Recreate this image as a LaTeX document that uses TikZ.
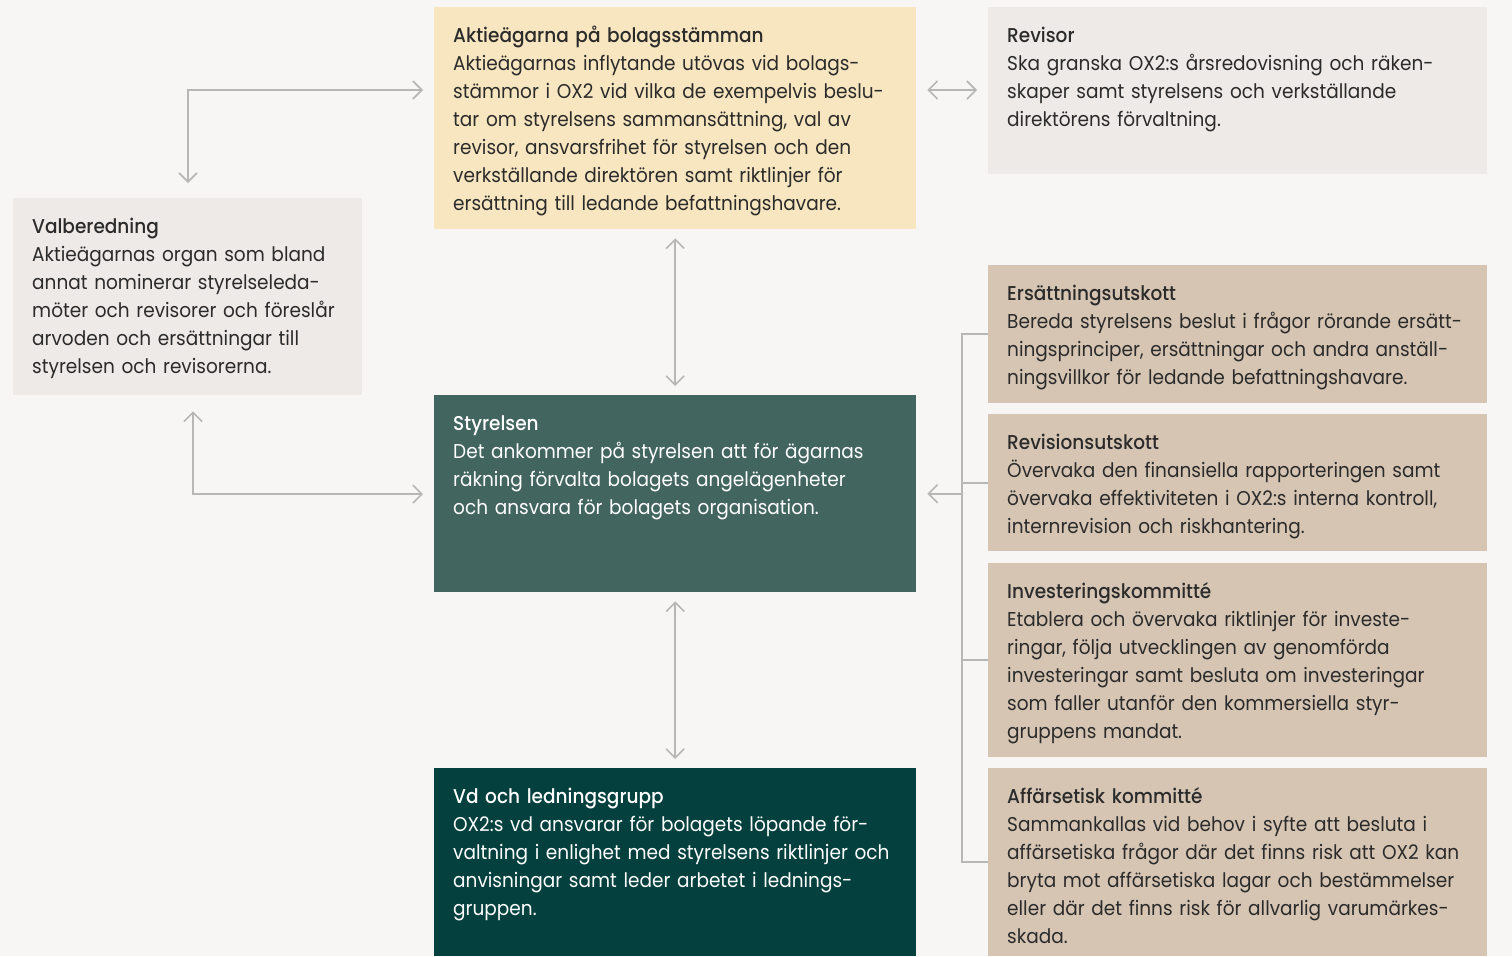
\documentclass[tikz,border=0pt]{standalone}
\usepackage{fontspec}
\setmainfont{Poppins}[FakeStretch=0.925, BoldFont={Poppins Medium}]
\usetikzlibrary{arrows.meta}
\definecolor{bg}{HTML}{F7F6F4}
\definecolor{yel}{HTML}{F8E6C0}
\definecolor{gry}{HTML}{EEEAE8}
\definecolor{tan}{HTML}{D6C5B3}
\definecolor{sty}{HTML}{42655F}
\definecolor{vdc}{HTML}{03403E}
\definecolor{txc}{HTML}{2B2B2B}
\definecolor{arc}{HTML}{B7B7B7}
\tikzset{
  box/.style={draw=none, anchor=north west, inner sep=0pt},
  txt/.style={anchor=base west, inner sep=0pt, text width=520pt, align=left,
    font=\fontsize{20}{28}\selectfont, text=txc},
  wtxt/.style={txt, text=white},
  conn/.style={draw=arc, line width=1.6pt, {Straight Barb[length=9pt,width=18pt]}-{Straight Barb[length=9pt,width=18pt]}},
  oneway/.style={draw=arc, line width=1.6pt, -{Straight Barb[length=9pt,width=18pt]}},
  brk/.style={draw=arc, line width=1.6pt},
}
\newcommand{\ttl}[1]{\textbf{#1}}
\begin{document}
\begin{tikzpicture}[x=1pt,y=-1pt]
\fill[bg] (0,0) rectangle (1512,956);
\useasboundingbox (0,0) rectangle (1512,956);
% boxes
\node[box, fill=yel, minimum width=482pt, minimum height=222pt] (akt) at (434,7) {};
\node[box, fill=gry, minimum width=499pt, minimum height=167pt] (rev) at (988,7) {};
\node[box, fill=gry, minimum width=349pt, minimum height=197pt] (val) at (13,198) {};
\node[box, fill=sty, minimum width=482pt, minimum height=197pt] (styr) at (434,395) {};
\node[box, fill=vdc, minimum width=482pt, minimum height=188pt] (vd) at (434,768) {};
\node[box, fill=tan, minimum width=499pt, minimum height=138pt] (ers) at (988,265) {};
\node[box, fill=tan, minimum width=499pt, minimum height=137pt] (rvs) at (988,414) {};
\node[box, fill=tan, minimum width=499pt, minimum height=194pt] (inv) at (988,563) {};
\node[box, fill=tan, minimum width=499pt, minimum height=188pt] (aff) at (988,768) {};
% texts
\node[txt] (aktT) at (453,42) {\ttl{Aktieägarna på bolagsstämman}\\
Aktieägarnas inflytande utövas vid bolags-\\
stämmor i OX2 vid vilka de exempelvis beslu-\\
tar om styrelsens sammansättning, val av\\
revisor, ansvarsfrihet för styrelsen och den\\
verkställande direktören samt riktlinjer för\\
ersättning till ledande befattningshavare.};
\node[txt] (revT) at (1007,42) {\ttl{Revisor}\\
Ska granska OX2:s årsredovisning och räken-\\
skaper samt styrelsens och verkställande\\
direktörens förvaltning.};
\node[txt] (valT) at (32,233) {\ttl{Valberedning}\\
Aktieägarnas organ som bland\\
annat nominerar styrelseleda-\\
möter och revisorer och föreslår\\
arvoden och ersättningar till\\
styrelsen och revisorerna.};
\node[wtxt] (styT) at (453,430) {\ttl{Styrelsen}\\
Det ankommer på styrelsen att för ägarnas\\
räkning förvalta bolagets angelägenheter\\
och ansvara för bolagets organisation.};
\node[wtxt] (vdT) at (453,803) {\ttl{Vd och ledningsgrupp}\\
OX2:s vd ansvarar för bolagets löpande för-\\
valtning i enlighet med styrelsens riktlinjer och\\
anvisningar samt leder arbetet i lednings-\\
gruppen.};
\node[txt] (ersT) at (1007,300) {\ttl{Ersättningsutskott}\\
Bereda styrelsens beslut i frågor rörande ersätt-\\
ningsprinciper, ersättningar och andra anställ-\\
ningsvillkor för ledande befattningshavare.};
\node[txt] (rvsT) at (1007,449) {\ttl{Revisionsutskott}\\
Övervaka den finansiella rapporteringen samt\\
övervaka effektiviteten i OX2:s interna kontroll,\\
internrevision och riskhantering.};
\node[txt] (invT) at (1007,598) {\ttl{Investeringskommitté}\\
Etablera och övervaka riktlinjer för investe-\\
ringar, följa utvecklingen av genomförda\\
investeringar samt besluta om investeringar\\
som faller utanför den kommersiella styr-\\
gruppens mandat.};
\node[txt] (affT) at (1007,803) {\ttl{Affärsetisk kommitté}\\
Sammankallas vid behov i syfte att besluta i\\
affärsetiska frågor där det finns risk att OX2 kan\\
bryta mot affärsetiska lagar och bestämmelser\\
eller där det finns risk för allvarlig varumärkes-\\
skada.};
% connectors
\draw[conn] ([shift={(175,-15)}]val.north west) |- ([shift={(-11,83)}]akt.north west);
\draw[conn] ([shift={(11,83)}]akt.north east) -- ([shift={(-11,83)}]rev.north west);
\draw[conn] ([shift={(0,9)}]akt.south) -- ([shift={(0,-9)}]styr.north);
\draw[conn] ([shift={(180,16)}]val.south west) |- ([shift={(-11,99)}]styr.north west);
\draw[conn] ([shift={(0,9)}]styr.south) -- ([shift={(0,-9)}]vd.north);
% committee bracket
\coordinate (bx) at ([xshift=-26]rvs.west);
\draw[brk] (ers.west) -- ++(-26,0) |- (aff.west);
\draw[brk] (rvs.west) -- (bx);
\draw[brk] (inv.west) -- ++(-26,0);
\draw[oneway] (styr.east -| bx) -- ([xshift=11]styr.east);
\end{tikzpicture}
\end{document}
